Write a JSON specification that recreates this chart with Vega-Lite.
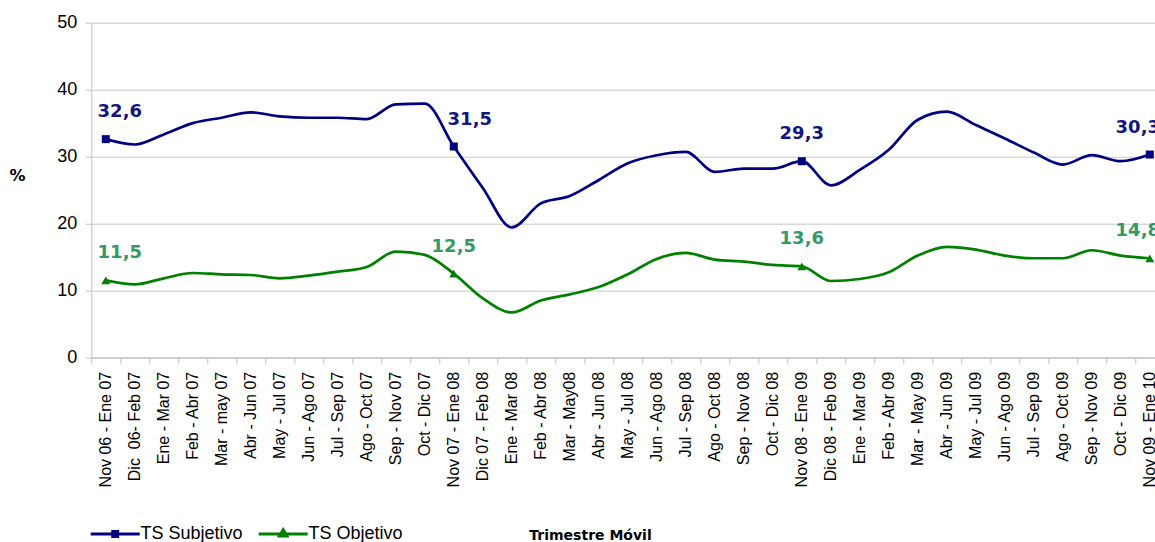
{
  "$schema": "https://vega.github.io/schema/vega-lite/v6.json",
  "width": 1063.7,
  "height": 334.6,
  "autosize": {"type": "none"},
  "padding": {"left": 91.3, "top": 22.7, "right": 0, "bottom": 184.7},
  "background": "white",
  "config": {"view": {"stroke": null}, "font": "Liberation Sans"},
  "data": {"values": [
    {"periodo": "Nov 06 - Ene 07", "TS Subjetivo": 32.6, "TS Objetivo": 11.5},
    {"periodo": "Dic\u00a0 06- Feb 07", "TS Subjetivo": 31.8, "TS Objetivo": 10.9},
    {"periodo": "Ene - Mar 07", "TS Subjetivo": 33.3, "TS Objetivo": 11.8},
    {"periodo": "Feb - Abr 07", "TS Subjetivo": 35.0, "TS Objetivo": 12.6},
    {"periodo": "Mar - may 07", "TS Subjetivo": 35.8, "TS Objetivo": 12.4},
    {"periodo": "Abr - Jun 07", "TS Subjetivo": 36.6, "TS Objetivo": 12.3},
    {"periodo": "May - Jul 07", "TS Subjetivo": 36.0, "TS Objetivo": 11.8},
    {"periodo": "Jun - Ago 07", "TS Subjetivo": 35.8, "TS Objetivo": 12.2},
    {"periodo": "Jul - Sep 07", "TS Subjetivo": 35.8, "TS Objetivo": 12.8},
    {"periodo": "Ago - Oct 07", "TS Subjetivo": 35.6, "TS Objetivo": 13.5},
    {"periodo": "Sep - Nov 07", "TS Subjetivo": 37.8, "TS Objetivo": 15.8},
    {"periodo": "Oct - Dic 07", "TS Subjetivo": 37.9, "TS Objetivo": 15.3},
    {"periodo": "Nov 07 - Ene 08", "TS Subjetivo": 31.5, "TS Objetivo": 12.5},
    {"periodo": "Dic 07 - Feb 08", "TS Subjetivo": 25.3, "TS Objetivo": 8.8},
    {"periodo": "Ene - Mar 08", "TS Subjetivo": 19.4, "TS Objetivo": 6.7},
    {"periodo": "Feb - Abr 08", "TS Subjetivo": 23.0, "TS Objetivo": 8.5},
    {"periodo": "Mar - May08", "TS Subjetivo": 24.1, "TS Objetivo": 9.4},
    {"periodo": "Abr - Jun 08", "TS Subjetivo": 26.5, "TS Objetivo": 10.5},
    {"periodo": "May - Jul 08", "TS Subjetivo": 29.0, "TS Objetivo": 12.4},
    {"periodo": "Jun - Ago 08", "TS Subjetivo": 30.2, "TS Objetivo": 14.7},
    {"periodo": "Jul - Sep 08", "TS Subjetivo": 30.7, "TS Objetivo": 15.6},
    {"periodo": "Ago - Oct 08", "TS Subjetivo": 27.7, "TS Objetivo": 14.6},
    {"periodo": "Sep - Nov 08", "TS Subjetivo": 28.2, "TS Objetivo": 14.3},
    {"periodo": "Oct - Dic 08", "TS Subjetivo": 28.2, "TS Objetivo": 13.8},
    {"periodo": "Nov 08 - Ene 09", "TS Subjetivo": 29.3, "TS Objetivo": 13.6},
    {"periodo": "Dic 08 - Feb 09", "TS Subjetivo": 25.7, "TS Objetivo": 11.4},
    {"periodo": "Ene - Mar 09", "TS Subjetivo": 28.0, "TS Objetivo": 11.7},
    {"periodo": "Feb - Abr 09", "TS Subjetivo": 31.0, "TS Objetivo": 12.7},
    {"periodo": "Mar - May 09", "TS Subjetivo": 35.5, "TS Objetivo": 15.2},
    {"periodo": "Abr - Jun 09", "TS Subjetivo": 36.7, "TS Objetivo": 16.5},
    {"periodo": "May - Jul 09", "TS Subjetivo": 34.7, "TS Objetivo": 16.1},
    {"periodo": "Jun - Ago 09", "TS Subjetivo": 32.7, "TS Objetivo": 15.2},
    {"periodo": "Jul - Sep 09", "TS Subjetivo": 30.6, "TS Objetivo": 14.8},
    {"periodo": "Ago - Oct 09", "TS Subjetivo": 28.8, "TS Objetivo": 14.8},
    {"periodo": "Sep - Nov 09", "TS Subjetivo": 30.2, "TS Objetivo": 16.0},
    {"periodo": "Oct - Dic 09", "TS Subjetivo": 29.3, "TS Objetivo": 15.2},
    {"periodo": "Nov 09 - Ene 10", "TS Subjetivo": 30.3, "TS Objetivo": 14.8}
  ]},
  "transform": [{"fold": ["TS Subjetivo", "TS Objetivo"], "as": ["serie", "valor"]}],
  "encoding": {
    "x": {
      "field": "periodo", "type": "nominal", "sort": null,
      "scale": {"type": "band", "range": [0, 1073], "paddingInner": 0, "paddingOuter": 0},
      "axis": {
        "title": "Trimestre Móvil", "titleFont": "DejaVu Sans", "titleFontWeight": "bold", "titleFontSize": 14,
        "titleColor": "#000", "titleX": 498.7, "titleY": 182.4, "titleBaseline": "alphabetic", "titleAlign": "center", "titleAnchor": null,
        "labelAngle": 270, "labelAlign": "right", "labelBaseline": "middle", "labelFontSize": 16, "labelColor": "#000",
        "labelPadding": 8, "labelOverlap": false, "labelLimit": 300,
        "tickBand": "extent", "tickSize": 6, "tickColor": "#bfbfbf", "domainColor": "#bfbfbf", "grid": false
      }
    },
    "y": {
      "field": "valor", "type": "quantitative",
      "scale": {"domain": [0, 50], "nice": false},
      "axis": {
        "values": [0, 10, 20, 30, 40, 50], "grid": true, "gridColor": "#c8c8c8",
        "domainColor": "#bfbfbf", "tickColor": "#bfbfbf", "tickSize": 6,
        "labelFontSize": 18, "labelColor": "#000", "labelPadding": 8.6,
        "title": "%", "titleAngle": 0, "titleFont": "DejaVu Sans", "titleFontWeight": "bold", "titleFontSize": 16,
        "titleColor": "#000", "titleX": -74.3, "titleY": 152.3, "titleAlign": "center", "titleBaseline": "middle"
      }
    },
    "color": {
      "field": "serie", "type": "nominal",
      "scale": {"domain": ["TS Subjetivo", "TS Objetivo"], "range": ["#000080", "#008000"]},
      "legend": {
        "orient": "none", "legendX": 12.4, "legendY": 499.5, "direction": "horizontal", "title": null,
        "symbolSize": 384, "symbolStrokeWidth": 3, "labelFontSize": 18, "labelFont": "Liberation Sans",
        "labelColor": "#000", "labelOffset": 13.7, "columnPadding": 10, "padding": 0, "rowPadding": 0,
        "symbolType": "M-2.5,0H2.5M-0.25,-0.25H0.25V0.25H-0.25Z",
        "encode": {"symbols": {"update": {
          "shape": {"signal": "datum.value === 'TS Subjetivo' ? 'M-2.5,0H2.5M-0.25,-0.25H0.25V0.25H-0.25Z' : 'M-2.5,0H2.5M0,-0.42L0.38,0.2H-0.38Z'"},
          "fill": {"signal": "datum.value === 'TS Subjetivo' ? '#000080' : '#008000'"},
          "stroke": {"signal": "datum.value === 'TS Subjetivo' ? '#000080' : '#008000'"},
          "strokeWidth": {"value": 3},
          "opacity": {"value": 1},
          "size": {"value": 384}
        }}}
      }
    }
  },
  "layer": [
    {
      "mark": {"type": "line", "interpolate": "monotone", "strokeWidth": 2.7}
    },
    {
      "transform": [
        {"filter": {"field": "periodo", "oneOf": ["Nov 06 - Ene 07", "Nov 07 - Ene 08", "Nov 08 - Ene 09", "Nov 09 - Ene 10"]}},
        {"filter": "datum.serie === 'TS Subjetivo'"}
      ],
      "mark": {"type": "point", "filled": true, "opacity": 1, "size": 64, "shape": "square"}
    },
    {
      "transform": [
        {"filter": {"field": "periodo", "oneOf": ["Nov 06 - Ene 07", "Nov 07 - Ene 08", "Nov 08 - Ene 09", "Nov 09 - Ene 10"]}},
        {"filter": "datum.serie === 'TS Objetivo'"}
      ],
      "mark": {"type": "point", "filled": true, "opacity": 1, "size": 80, "shape": "triangle-up"}
    },
    {
      "transform": [
        {"filter": {"field": "periodo", "oneOf": ["Nov 06 - Ene 07", "Nov 07 - Ene 08", "Nov 08 - Ene 09", "Nov 09 - Ene 10"]}},
        {"calculate": "replace(format(datum.valor, '.1f'), '.', ',')", "as": "etiqueta"}
      ],
      "mark": {
        "type": "text", "font": "DejaVu Sans", "fontWeight": "bold", "fontSize": 18, "baseline": "alphabetic", "align": "center", "dy": -22,
        "dx": {"expr": "datum.periodo === 'Nov 06 - Ene 07' ? 14 : datum.periodo === 'Nov 09 - Ene 10' ? -12 : (datum.periodo === 'Nov 07 - Ene 08' && datum.serie === 'TS Subjetivo') ? 16 : 0"},
        "fill": {"expr": "datum.serie === 'TS Subjetivo' ? '#14147f' : '#339966'"}
      },
      "encoding": {"text": {"field": "etiqueta", "type": "nominal"}, "color": {"value": null}}
    }
  ]
}
